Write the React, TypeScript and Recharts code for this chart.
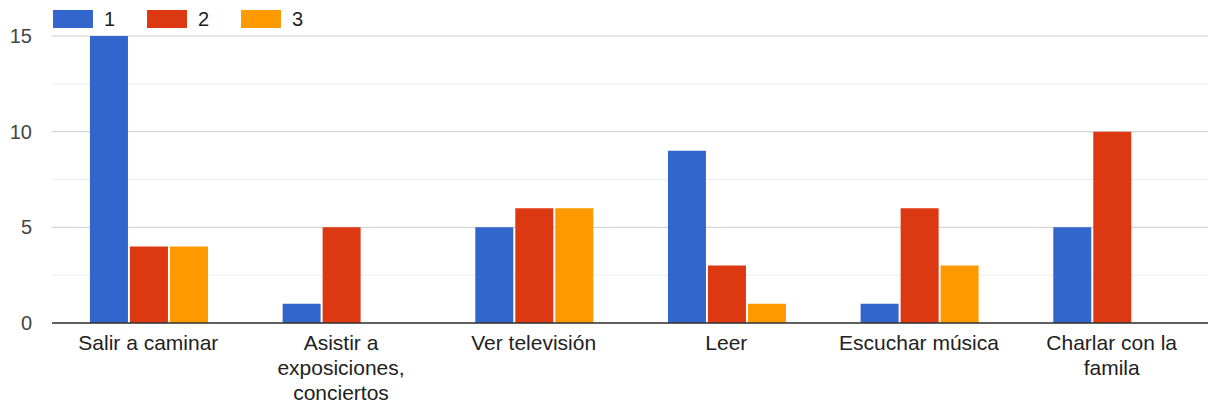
import React from "react";
import { BarChart, Bar, XAxis, YAxis, CartesianGrid } from "recharts";

const categories = [
  "Salir a caminar",
  "Asistir a exposiciones, conciertos",
  "Ver televisión",
  "Leer",
  "Escuchar música",
  "Charlar con la famila",
];
const serie1 = [15, 1, 5, 9, 1, 5];
const serie2 = [4, 5, 6, 3, 6, 10];
const serie3 = [4, 0, 6, 1, 3, 0];
const yTicks = [0, 5, 10, 15];
const minorTicks = [2.5, 7.5, 12.5];

const series = [
  { key: "s1", name: "1", color: "#3366cc", values: serie1 },
  { key: "s2", name: "2", color: "#dc3912", values: serie2 },
  { key: "s3", name: "3", color: "#ff9900", values: serie3 },
];

const data = categories.map((c, i) => ({
  name: c,
  s1: serie1[i],
  s2: serie2[i],
  s3: serie3[i],
}));

const font = "Arial, 'Liberation Sans', sans-serif";
const labelSize = 21;
const wrapWidth = 175;

let ctx: CanvasRenderingContext2D | null = null;
function measure(s: string) {
  if (!ctx) ctx = document.createElement("canvas").getContext("2d");
  if (!ctx) return s.length * 10;
  ctx.font = `${labelSize}px ${font}`;
  return ctx.measureText(s).width;
}

function wrap(label: string) {
  const words = label.split(" ");
  const lines: string[] = [];
  let cur = "";
  words.forEach((w) => {
    const next = cur ? cur + " " + w : w;
    if (cur && measure(next) > wrapWidth) {
      lines.push(cur);
      cur = w;
    } else cur = next;
  });
  if (cur) lines.push(cur);
  return lines;
}

function CategoryTick(props: any) {
  const { x, y, payload } = props;
  const lines = wrap(payload.value);
  return (
    <text x={x} y={y} textAnchor="middle" fontSize={labelSize} fontFamily={font} fill="#222222">
      {lines.map((l, i) => (
        <tspan key={i} x={x} dy={i === 0 ? 19 : 25}>
          {l}
        </tspan>
      ))}
    </text>
  );
}

export default function App() {
  return (
    <div style={{ position: "absolute", left: 0, top: 0, width: 1208, height: 406, background: "#fff", fontFamily: font }}>
      {/* legend */}
      <div style={{ position: "absolute", left: 53, top: 10, display: "flex", alignItems: "center", zIndex: 2 }}>
        {series.map((s) => (
          <div key={s.key} style={{ display: "flex", alignItems: "center", width: 94 }}>
            <div style={{ width: 40, height: 18, background: s.color }} />
            <span style={{ marginLeft: 11, fontSize: 20, color: "#222", lineHeight: "18px" }}>{s.name}</span>
          </div>
        ))}
      </div>
      <BarChart
        width={1208}
        height={406}
        data={data}
        margin={{ top: 36, right: 0, left: 0, bottom: 0 }}
        barCategoryGap="19.7%"
        barGap={2}
      >
        <CartesianGrid vertical={false} stroke="#ebebeb" horizontalValues={minorTicks} />
        <CartesianGrid vertical={false} stroke="#cccccc" />
        <XAxis
          dataKey="name"
          height={83}
          tickLine={false}
          axisLine={{ stroke: "#333333", strokeWidth: 1.5 }}
          interval={0}
          tick={<CategoryTick />}
        />
        <YAxis
          width={52}
          domain={[0, 15]}
          ticks={yTicks}
          tickLine={false}
          axisLine={false}
          tickMargin={14}
          tick={{ fontSize: 20, fill: "#444444", fontFamily: font }}
        />
        {series.map((s) => (
          <Bar key={s.key} dataKey={s.key} name={s.name} fill={s.color} isAnimationActive={false} />
        ))}
      </BarChart>
    </div>
  );
}
